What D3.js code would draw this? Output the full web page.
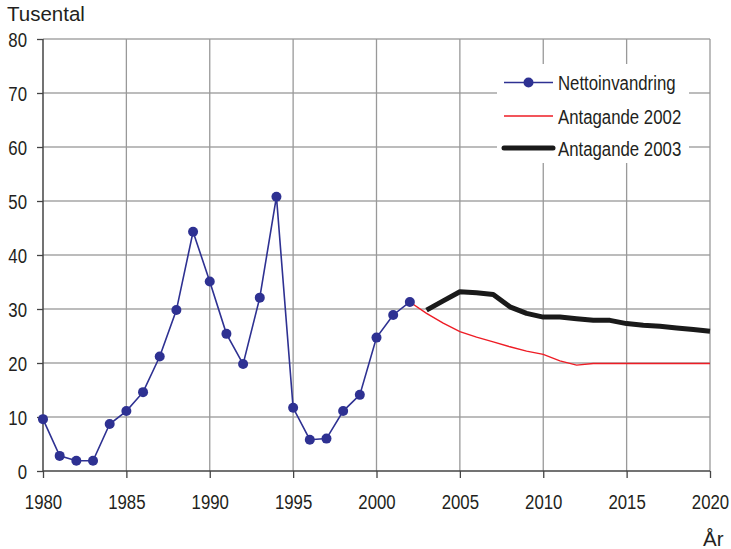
<!DOCTYPE html>
<html><head><meta charset="utf-8">
<script src="https://cdn.jsdelivr.net/npm/d3@7/dist/d3.min.js"></script>
<style>
body{margin:0;background:#fff;}
text{fill:#231f20;}
</style></head>
<body><svg id="c" width="731" height="549"></svg>
<script>
const nettoYears = d3.range(1980, 2003);
const nettoValues = [9.6,2.8,1.9,1.9,8.7,11.1,14.6,21.2,29.8,44.3,35.1,25.4,19.8,32.1,50.8,11.7,5.8,6.0,11.1,14.1,24.7,28.9,31.3];
const ant2002Years = d3.range(2002, 2021);
const ant2002Values = [31.3,29.2,27.4,25.8,24.8,23.9,23.0,22.2,21.6,20.4,19.6,19.9,19.9,19.9,19.9,19.9,19.9,19.9,19.9];
const ant2003Years = d3.range(2003, 2021);
const ant2003Values = [29.8,31.5,33.2,33.0,32.7,30.4,29.2,28.5,28.5,28.2,27.9,27.9,27.3,27.0,26.8,26.5,26.2,25.9];
const xTicks = d3.range(1980, 2021, 5);
const yTicks = d3.range(0, 81, 10);
const legendLabels = ["Nettoinvandring","Antagande 2002","Antagande 2003"];
const yTitle = "Tusental", xTitle = "År";

const svg = d3.select("#c");
const x = d3.scaleLinear().domain([1980,2020]).range([43,710]);
const y = d3.scaleLinear().domain([0,80]).range([471,39]);
const font = "'Liberation Sans',Arial,sans-serif";
const SX = 0.8;

// grid
svg.append("g").selectAll("line").data(yTicks.filter(d=>d>0)).join("line")
  .attr("x1",x(1980)).attr("x2",x(2020)).attr("y1",d=>y(d)).attr("y2",d=>y(d))
  .attr("stroke","#a6a6a6").attr("stroke-width",1.3);
svg.append("g").selectAll("line").data(xTicks.filter(d=>d>1980)).join("line")
  .attr("x1",d=>x(d)).attr("x2",d=>x(d)).attr("y1",y(0)).attr("y2",y(80))
  .attr("stroke","#999").attr("stroke-width",1.3);

// axes
const xa = svg.append("g").attr("transform",`translate(0,${y(0)})`)
  .call(d3.axisBottom(x).tickValues(xTicks).tickFormat(d3.format("d")).tickSize(7).tickPadding(0));
const ya = svg.append("g").attr("transform",`translate(${x(1980)},0)`)
  .call(d3.axisLeft(y).tickValues(yTicks).tickSize(6).tickPadding(0));
[xa,ya].forEach(a=>{
  a.select(".domain").attr("stroke","#444").attr("stroke-width",1.5);
  a.selectAll(".tick line").attr("stroke","#444").attr("stroke-width",1.3);
  a.selectAll("text").style("font-family",font).style("font-size","21px").attr("fill","#231f20");
});
xa.selectAll(".tick text").attr("y",null).attr("dy",null)
  .attr("transform",`translate(0,38) scale(${SX},1)`);
ya.selectAll(".tick text").attr("x",null).attr("dy","0.35em")
  .attr("transform",`translate(-16,0) scale(${SX},1)`);
xa.select(".domain").attr("d",`M${x(1980)},0H${x(2020)}`);
ya.select(".domain").attr("d",`M0,${y(0)}V${y(80)}`);

// lines
const line = d3.line().x(d=>x(d[0])).y(d=>y(d[1]));
svg.append("path").datum(ant2002Years.map((v,i)=>[v,ant2002Values[i]]))
  .attr("d",line).attr("fill","none").attr("stroke","#ee1c25").attr("stroke-width",1.4);
svg.append("path").datum(ant2003Years.map((v,i)=>[v,ant2003Values[i]]))
  .attr("d",line).attr("fill","none").attr("stroke","#1a1a1a").attr("stroke-width",5).attr("stroke-linejoin","round");
const nd = nettoYears.map((v,i)=>[v,nettoValues[i]]);
svg.append("path").datum(nd).attr("d",line).attr("fill","none").attr("stroke","#2e3192").attr("stroke-width",1.6);
svg.append("g").selectAll("circle").data(nd).join("circle")
  .attr("cx",d=>x(d[0])).attr("cy",d=>y(d[1])).attr("r",5).attr("fill","#2e3192");

// legend
const lg = svg.append("g");
lg.append("rect").attr("x",497).attr("y",64).attr("width",192).attr("height",99).attr("fill","#fff");
const rows = [82.5,116,148];
legendLabels.forEach((t,i)=>{
  const g = lg.append("g");
  const l = g.append("line").attr("x1",504).attr("x2",553).attr("y1",rows[i]).attr("y2",rows[i]);
  if(i===0){ l.attr("stroke","#2e3192").attr("stroke-width",1.6);
    g.append("circle").attr("cx",528.5).attr("cy",rows[i]).attr("r",5).attr("fill","#2e3192"); }
  if(i===1) l.attr("stroke","#ee1c25").attr("stroke-width",1.4);
  if(i===2) l.attr("stroke","#1a1a1a").attr("stroke-width",5).attr("stroke-linecap","round");
  g.append("text").attr("transform",`translate(558,${rows[i]+7.5}) scale(${SX},1)`).text(t)
    .style("font-family",font).style("font-size","21px");
});

// titles
svg.append("text").attr("x",7).attr("y",21).text(yTitle)
  .style("font-family",font).style("font-size","20.5px");
svg.append("text").attr("x",703).attr("y",546).text(xTitle)
  .style("font-family",font).style("font-size","20.5px");
</script></body></html>
